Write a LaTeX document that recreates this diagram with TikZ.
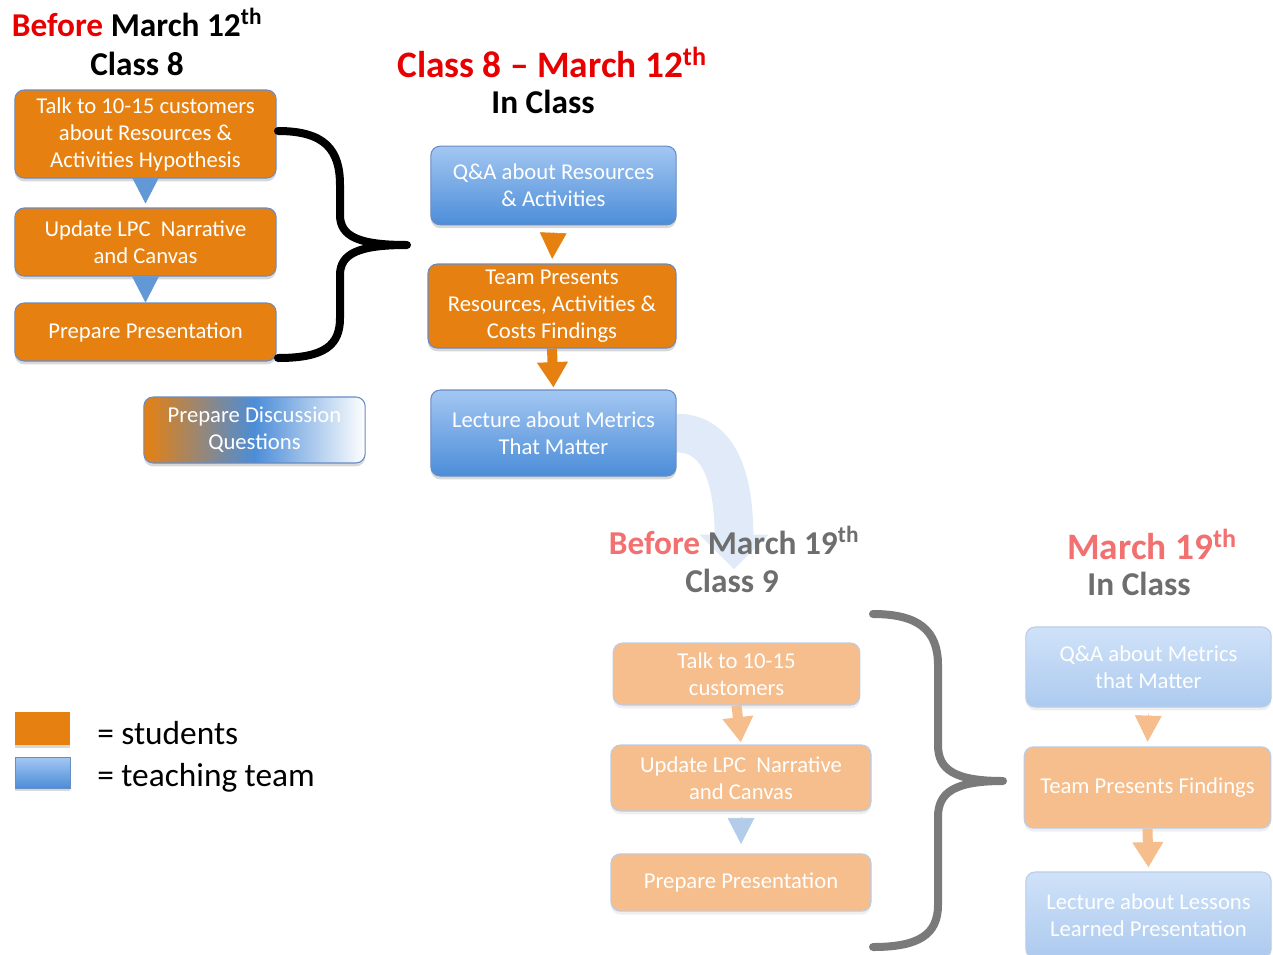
\documentclass[tikz,border=0pt]{standalone}
\usepackage{fontspec}
\setmainfont{Carlito}
\usepackage{tikz}
\usetikzlibrary{arrows.meta,shadows,backgrounds}

\definecolor{stuorange}{RGB}{230,128,16}
\definecolor{teamtop}{RGB}{163,199,242}
\definecolor{teambot}{RGB}{76,141,216}
\definecolor{boxedge}{RGB}{104,140,196}
\definecolor{tipblue}{RGB}{98,152,214}
\definecolor{headred}{RGB}{232,0,0}
\definecolor{paleorange}{RGB}{245,190,140}
\definecolor{paletop}{RGB}{208,226,248}
\definecolor{palebot}{RGB}{172,202,239}
\definecolor{paleedge}{RGB}{185,205,235}
\definecolor{paletip}{RGB}{178,204,234}
\definecolor{palered}{RGB}{242,112,112}
\definecolor{headgray}{RGB}{110,110,110}
\definecolor{bracegray}{RGB}{122,122,122}
\definecolor{bendblue}{RGB}{224,234,248}

\tikzset{
  boxbase/.style={rounded corners=7pt, line width=0.8pt, text=white, align=center,
    font=\fontsize{17}{20.25}\selectfont, inner sep=2pt},
  studentbox/.style={boxbase, draw=boxedge, fill=stuorange,
    drop shadow={opacity=0.3, shadow xshift=0pt, shadow yshift=-2.5pt}},
  teambox/.style={boxbase, draw=boxedge, top color=teamtop, bottom color=teambot,
    drop shadow={opacity=0.3, shadow xshift=0pt, shadow yshift=-2.5pt}},
  palestudent/.style={boxbase, draw=paleedge, fill=paleorange,
    drop shadow={opacity=0.12, shadow xshift=0pt, shadow yshift=-2.5pt}},
  paleteam/.style={boxbase, draw=paleedge, top color=paletop, bottom color=palebot,
    drop shadow={opacity=0.12, shadow xshift=0pt, shadow yshift=-2.5pt}},
  heading/.style={font=\bfseries\fontsize{25}{30}\selectfont, inner sep=0pt},
  bigheading/.style={font=\bfseries\fontsize{28}{33}\selectfont, inner sep=0pt},
  keytext/.style={anchor=west, font=\fontsize{25}{30}\selectfont, inner sep=0pt},
  tri/.style={line width=0.4pt, -{Triangle[width=20pt,length=19.5pt]}},
  blockarrow/.style={line width=7.5pt, -{Triangle[width=22pt,length=19pt]}},
  fadearrow/.style={bendblue, line width=29pt, -{Triangle[width=50pt,length=26pt]}},
  brace/.style={line width=6pt, line cap=round, line join=round},
}

\begin{document}
\begin{tikzpicture}[x=0.75pt, y=-0.75pt]
\useasboundingbox (0,0) rectangle (1273,954);

\node[heading] (before12) at (137,22) {\textcolor{headred}{Before} March 12\textsuperscript{th}};
\node[heading] (class8) at (137,64) {Class 8};
\node[bigheading, text=headred] (class8mar) at (552,62) {Class 8 -- March 12\textsuperscript{th}};
\node[heading] (inclass1) at (543,102) {In Class};

\node[studentbox, minimum width=196pt, minimum height=66pt] (talk1) at (145.5,134)
  {Talk to 10-15 customers\\about Resources \&\\Activities Hypothesis};
\node[studentbox, minimum width=196pt, minimum height=51pt] (upd1) at (145.5,242)
  {Update LPC\ \ Narrative\\and Canvas};
\node[studentbox, minimum width=196pt, minimum height=43.5pt] (prep1) at (145.5,332)
  {Prepare Presentation};
\node[boxbase, draw=boxedge, left color=stuorange, right color=white, middle color=teambot,
  minimum width=166pt, minimum height=49.5pt,
  drop shadow={opacity=0.3, shadow xshift=0pt, shadow yshift=-2.5pt}] (disc) at (254.5,430)
  {Prepare Discussion\\Questions};

\node[teambox, minimum width=184pt, minimum height=59pt] (qa1) at (553.5,185.5)
  {Q\&A about Resources\\\& Activities};
\node[studentbox, minimum width=186pt, minimum height=63pt] (team1) at (552,306)
  {Team Presents\\Resources, Activities \&\\Costs Findings};
\node[teambox, minimum width=184pt, minimum height=64.5pt] (lect1) at (553.5,433)
  {Lecture about Metrics\\That Matter};

\node[heading] (before19) at (734,540) {\textcolor{palered}{Before} \textcolor{headgray}{March 19\textsuperscript{th}}};
\node[heading, text=headgray] (class9) at (732,581) {Class 9};
\node[bigheading, text=palered] (march19) at (1152,544) {March 19\textsuperscript{th}};
\node[heading, text=headgray] (inclass2) at (1139,584) {In Class};

\node[palestudent, minimum width=185pt, minimum height=46.5pt] (talk2) at (736.5,674)
  {Talk to 10-15\\customers};
\node[palestudent, minimum width=195pt, minimum height=49.5pt] (upd2) at (741,778)
  {Update LPC\ \ Narrative\\and Canvas};
\node[palestudent, minimum width=195pt, minimum height=43pt] (prep2) at (741,882.5)
  {Prepare Presentation};

\node[paleteam, minimum width=184pt, minimum height=60pt] (qa2) at (1148.5,667)
  {Q\&A about Metrics\\that Matter};
\node[palestudent, minimum width=185pt, minimum height=61pt] (team2) at (1147.5,787.5)
  {Team Presents Findings};
\node[paleteam, minimum width=184pt, minimum height=64.5pt] (lect2) at (1148.5,915)
  {Lecture about Lessons\\Learned Presentation};

\node[fill=stuorange, minimum width=41pt, minimum height=25pt, inner sep=0pt,
  drop shadow={opacity=0.3, shadow xshift=0pt, shadow yshift=-2pt}] (stukey) at (42.5,728.5) {};
\node[draw=boxedge, top color=teamtop, bottom color=teambot, minimum width=41pt, minimum height=23pt,
  inner sep=0pt, drop shadow={opacity=0.3, shadow xshift=0pt, shadow yshift=-2pt}] (teamkey) at (42.5,772.5) {};
\node[keytext] (stulabel) at (97,733) {= students};
\node[keytext] (teamlabel) at (97,778) {= teaching team};

\draw[tri, tipblue, shorten >=3pt] (talk1.south) -- (upd1.north);
\draw[tri, tipblue, shorten <=2pt] (upd1.south) -- (prep1.north);
\draw[tri, stuorange, shorten <=5pt, shorten >=3.5pt] (qa1.south) -- (team1.north);
\draw[blockarrow, stuorange, shorten >=1.5pt] (team1.south) -- (lect1.north);

\draw[blockarrow, paleorange, shorten >=1.5pt] (talk2.south) -- (upd2.north);
\draw[tri, paletip, shorten <=4pt, shorten >=7pt] (upd2.south) -- (prep2.north);
\draw[tri, paleorange, shorten <=4.5pt, shorten >=3.5pt] (qa2.south) -- (team2.north);
\draw[blockarrow, paleorange, shorten >=3pt] (team2.south) -- (lect2.north);

\draw[brace, black] (278,131) .. controls (325,131) and (340,150) .. (340,185) -- (340,215)
  .. controls (340,237) and (360,245) .. (407,245) .. controls (360,245) and (340,253) .. (340,275)
  -- (340,318) .. controls (340,345) and (325,358) .. (278,358);
\draw[brace, bracegray] (873,614) .. controls (918,614) and (938,630) .. (938,665) -- (938,745)
  .. controls (938,770) and (955,781) .. (1003,781) .. controls (955,781) and (938,792) .. (938,817)
  -- (938,905) .. controls (938,935) and (918,947) .. (873,947);

\begin{pgfonlayer}{background}
\fill[white] (0,0) rectangle (1273,954);
\draw[fadearrow] (lect1.east) .. controls +(38,0) and +(0,-100) .. ([yshift=-22pt]before19.center);
\end{pgfonlayer}
\end{tikzpicture}
\end{document}
